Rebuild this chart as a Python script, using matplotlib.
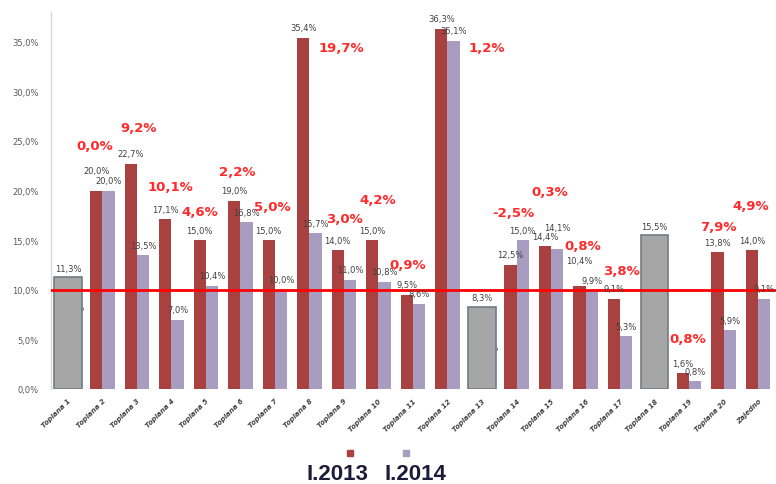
import matplotlib
matplotlib.use("Agg")
import matplotlib.pyplot as plt
from matplotlib.patches import Rectangle
import numpy as np

# ---------------- data ----------------
categories = [f"Toplana {i}" for i in range(1, 21)] + ["Zajedno"]
v2013 = [None, 20.0, 22.7, 17.1, 15.0, 19.0, 15.0, 35.4, 14.0, 15.0, 9.5,
         36.3, None, 12.5, 14.4, 10.4, 9.1, None, 1.6, 13.8, 14.0]
v2014 = [None, 20.0, 13.5, 7.0, 10.4, 16.8, 10.0, 15.7, 11.0, 10.8, 8.6,
         35.1, None, 15.0, 14.1, 9.9, 5.3, None, 0.8, 5.9, 9.1]
single_idx = [0, 12, 17]
single_val = [11.3, 8.3, 15.5]
hidden_2014 = [7.2, 3.2, None]      # labels partly hidden behind grey bars
changes = ["", "0,0%", "9,2%", "10,1%", "4,6%", "2,2%", "5,0%", "19,7%",
           "3,0%", "4,2%", "0,9%", "1,2%", "", "-2,5%", "0,3%", "0,8%",
           "3,8%", "", "0,8%", "7,9%", "4,9%"]
threshold = 10.0
series_names = ["I.2013", "I.2014"]

# annotation placement for change labels (x offset from group, y in %)
chg_dx = [0, -0.22, 0.06, -0.02, -0.17, -0.1, -0.09, 0.92, 0.0, -0.01, -0.14,
          1.15, 0, -0.1, -0.03, -0.07, 0.03, 0, -0.03, -0.16, -0.22]
chg_y = [0, 24.5, 26.4, 20.4, 17.9, 21.9, 18.4, 34.4, 17.2, 19.1, 12.5,
         34.4, 0, 17.8, 19.9, 14.5, 11.9, 0, 5.1, 16.4, 18.5]
# extra vertical offsets (points) for value labels that were moved apart
lift13 = {1: 7, 15: 11}
lift14 = {14: 8}

# ---------------- style ----------------
c13 = "#A8413F"
c14 = "#A89CC0"
cgrey = "#A6A6A6"
cgrey_edge = "#6F7B85"
lbl_col = "#404040"
chg_col = "#FF2A2A"

def fmt(v):
    return f"{v:.1f}%".replace(".", ",")

fig = plt.figure(figsize=(7.76, 4.85), dpi=100)
ax = fig.add_axes([51 / 776, 95 / 485, 725 / 776, 377 / 485])

x = np.arange(len(categories))
w = 0.36
for i in range(len(categories)):
    if v2013[i] is not None:
        ax.bar(x[i] - w / 2, v2013[i], w, color=c13, zorder=2)
        ax.annotate(fmt(v2013[i]), (x[i] - w / 2, v2013[i]),
                    xytext=(0, 4 + lift13.get(i, 0)),
                    textcoords="offset points", ha="center", va="bottom",
                    fontsize=6, color=lbl_col, zorder=5)
    if v2014[i] is not None:
        ax.bar(x[i] + w / 2, v2014[i], w, color=c14, zorder=2)
        ax.annotate(fmt(v2014[i]), (x[i] + w / 2, v2014[i]),
                    xytext=(0, 4 + lift14.get(i, 0)),
                    textcoords="offset points", ha="center", va="bottom",
                    fontsize=6, color=lbl_col, zorder=5)

for k, i in enumerate(single_idx):
    if hidden_2014[k] is not None:
        ax.annotate(fmt(hidden_2014[k]), (x[i] + w / 2, hidden_2014[k]), xytext=(0, 4),
                    textcoords="offset points", ha="center", va="bottom",
                    fontsize=6, color=lbl_col, zorder=1)
    ax.bar(x[i], single_val[k], 0.8, color=cgrey, edgecolor=cgrey_edge,
           linewidth=1.2, zorder=3)
    ax.annotate(fmt(single_val[k]), (x[i], single_val[k]), xytext=(0, 3),
                textcoords="offset points", ha="center", va="bottom",
                fontsize=6, color=lbl_col, zorder=5)

for i, t in enumerate(changes):
    if t:
        ax.text(x[i] + chg_dx[i], chg_y[i], t, ha="center", va="center",
                fontsize=9.5, fontweight="bold", color=chg_col, zorder=6)

ax.axhline(threshold, color="#FF0000", linewidth=2.0, zorder=4)

ax.set_xlim(-0.49, 20.52)
ax.set_ylim(0, 38)
ax.set_yticks(np.arange(0, 36, 5))
ax.set_yticklabels([fmt(v) for v in np.arange(0, 36, 5)], fontsize=6, color="#595959")
ax.tick_params(axis="y", length=0, pad=9)
ax.set_xticks(x)
ax.set_xticklabels(categories, rotation=45, ha="right", rotation_mode="anchor",
                   fontsize=5, color="#404040", style="italic", fontweight="bold")
ax.tick_params(axis="x", length=0, pad=6)

for s in ["top", "right", "bottom"]:
    ax.spines[s].set_visible(False)
ax.spines["left"].set_color("#D9D9D9")
ax.spines["left"].set_linewidth(1.0)

# legend: small squares above bold labels
for col, xc in zip([c13, c14], [350, 406]):
    fig.patches.append(Rectangle(((xc - 3) / 776, (485 - 457) / 485), 6 / 776, 6 / 485,
                                 transform=fig.transFigure, color=col))
for name, xc in zip(series_names, [337, 415]):
    fig.text(xc / 776, (485 - 475) / 485, name, ha="center", va="center",
             fontsize=16, fontweight="bold", color="#1c1c3a",
             family=["Liberation Sans", "DejaVu Sans"])

fig.savefig("out.png", dpi=100)
